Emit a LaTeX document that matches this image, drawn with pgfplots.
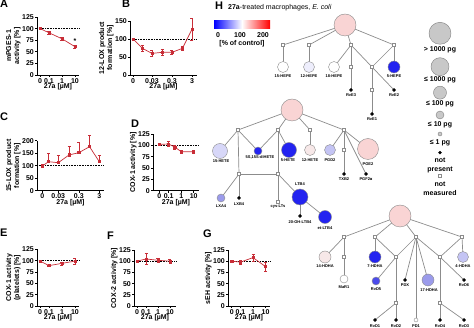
\documentclass[border=0pt]{standalone}
\usepackage{fontspec}
\setmainfont{Liberation Sans}
\usepackage{pgfplots}
\pgfplotsset{compat=1.18}
\definecolor{dr}{RGB}{200,45,55}
\definecolor{edgec}{RGB}{140,140,140}
\definecolor{pinkc}{RGB}{249,212,212}
\definecolor{palepink}{RGB}{247,232,232}
\definecolor{blu}{RGB}{35,35,240}
\definecolor{bluemed}{RGB}{75,75,235}
\definecolor{lav1}{RGB}{238,238,252}
\definecolor{lav2}{RGB}{215,215,248}
\definecolor{lav3}{RGB}{196,196,244}
\definecolor{lav4}{RGB}{155,155,235}
\definecolor{leggray}{RGB}{200,200,200}
\newcommand{\E}[4]{\addplot[edgec, line width=0.7pt] coordinates {(#1,#2) (#3,#4)};}
\newcommand{\C}[4]{\addplot[only marks, mark=*, mark size=#3pt, mark options={fill=#4, draw=edgec, line width=0.4pt}] coordinates {(#1,#2)};}
\newcommand{\Lb}[3]{\node[font=\fontsize{4}{4}\selectfont\bfseries, inner sep=0pt] at (#1,#2) {#3};}
\newcommand{\Lg}[3]{\node[font=\fontsize{7}{7}\selectfont\bfseries, inner sep=0pt] at (#1,#2) {#3};}
\pgfplotsset{
  panel/.style={scale only axis, axis lines*=left, tick align=outside,
    major tick length=2pt, axis line style={line width=0.8pt},
    tick style={line width=0.6pt, black},
    tick label style={font=\fontsize{7}{8}\selectfont\bfseries, inner sep=1pt},
    /pgf/number format/assume math mode=true,
    label style={font=\fontsize{7}{8}\selectfont\bfseries, align=center},
    xlabel={27a [µM]}, clip=false,
    xlabel style={yshift=4pt}, ylabel style={yshift=-3pt}, ymin=0},
  dat/.style={dr, line width=0.7pt, mark=square*, mark size=1.1pt,
    error bars/y dir=both, error bars/y explicit,
    error bars/error bar style={line width=0.6pt, dr},
    error bars/error mark options={rotate=90, mark size=1.5pt, dr}},
  datp/.style={dat, error bars/y dir=plus},
  ref/.style={densely dotted, black, line width=0.6pt}
}
\begin{document}
\begin{tikzpicture}
\useasboundingbox (0pt,0pt) rectangle (474pt,328pt);
% ---------------- A
\begin{axis}[panel, at={(37pt,253pt)}, anchor=south west, width=42pt, height=58pt,
  xmin=-1.923, xmax=1.308, ymax=125, ytick={0,25,...,125},
  xtick={-1.69,-1,0,1}, xticklabels={0,0.1,1,10},
  ylabel={mPGES-1\\activity [\%]}]
\addplot[ref] coordinates {(-1.923,100) (1.308,100)};
\addplot[dat] coordinates {(-1.69,100) +- (0,2) (-1,91) +- (0,3) (0,78) +- (0,3) (1,61) +- (0,3)};
\node[font=\fontsize{7}{7}\selectfont\bfseries] at (axis cs:1,73) {*};
\end{axis}
% ---------------- B
\begin{axis}[panel, at={(130pt,253pt)}, anchor=south west, width=67pt, height=54pt,
  xmin=-2.62, xmax=0.727, ymax=150, ytick={0,50,100,150},
  xtick={-2.47,-1.523,-0.523,0.477}, xticklabels={0,0.03,0.3,3},
  ylabel={12-LOX product\\formation [\%]}]
\addplot[ref] coordinates {(-2.62,100) (0.727,100)};
\addplot[dat] coordinates {(-2.47,100) +- (0,2) (-2,74) +- (0,8) (-1.523,60) +- (0,8)
  (-1,63) +- (0,8) (-0.523,63) +- (0,6) (0,74) +- (0,6) (0.477,127) +- (0,30)};
\end{axis}
% ---------------- C
\begin{axis}[panel, at={(37pt,137.3pt)}, anchor=south west, width=67pt, height=50pt,
  xmin=-2.562, xmax=0.706, ymax=200, ytick={0,50,...,200},
  xtick={-2.30,-1.523,-0.523,0.477}, xticklabels={0,0.03,0.3,3},
  ylabel={15-LOX product\\formation [\%]}]
\addplot[ref] coordinates {(-2.562,100) (0.706,100)};
\addplot[datp] coordinates {(-2.30,99) +- (0,2) (-2,116) +- (0,34) (-1.523,112) +- (0,31)
  (-1,143) +- (0,33) (-0.523,152) +- (0,40) (0,176) +- (0,46) (0.477,116) +- (0,24)};
\end{axis}
% ---------------- D
\begin{axis}[panel, at={(153pt,137.3pt)}, anchor=south west, width=46pt, height=56.7pt,
  xmin=-2.25, xmax=1.42, ymax=125, ytick={0,25,...,125},
  xtick={-1.75,-1,0,1}, xticklabels={0,0.1,1,10},
  ylabel={COX-1 activity [\%]}]
\addplot[ref] coordinates {(-2.25,100) (1.42,100)};
\addplot[dat] coordinates {(-1.75,102) +- (0,2) (-1,103) +- (0,6) (-0.5,96) +- (0,4) (0,86) +- (0,4) (1,86) +- (0,3)};
\end{axis}
% ---------------- E
\begin{axis}[panel, at={(37pt,22pt)}, anchor=south west, width=42pt, height=56.7pt,
  xmin=-1.923, xmax=1.308, ymax=125, ytick={0,25,...,125},
  xtick={-1.69,-1,0,1}, xticklabels={0,0.1,1,10},
  ylabel={COX-1 activity\\(platelets) [\%]}]
\addplot[ref] coordinates {(-1.923,100) (1.308,100)};
\addplot[dat] coordinates {(-1.69,99) +- (0,2) (-1,89) +- (0,2) (0,94) +- (0,3) (1,99) +- (0,7)};
\end{axis}
% ---------------- F
\begin{axis}[panel, at={(134pt,22pt)}, anchor=south west, width=42pt, height=56pt,
  xmin=-2, xmax=1.5, ymax=125, ytick={0,25,...,125},
  xtick={-1.75,-1,0,1}, xticklabels={0,0.1,1,10},
  ylabel={COX-2 activity [\%]}]
\addplot[ref] coordinates {(-2,100) (1.5,100)};
\addplot[dat] coordinates {(-1.75,100) +- (0,2) (-1,105) +- (0,12) (0,102) +- (0,5) (1,100) +- (0,5)};
\end{axis}
% ---------------- G
\begin{axis}[panel, at={(228pt,22pt)}, anchor=south west, width=42pt, height=56pt,
  xmin=-2, xmax=1.36, ymax=125, ytick={0,25,...,125},
  xtick={-1.70,-1,0,1}, xticklabels={0,0.1,1,10},
  ylabel={sEH activity [\%]}]
\addplot[ref] coordinates {(-2,100) (1.36,100)};
\addplot[dat] coordinates {(-1.70,100) +- (0,2) (-1,98) +- (0,4) (0,108) +- (0,8) (1,88) +- (0,10)};
\end{axis}
% ---------------- H network
\begin{axis}[at={(0pt,0pt)}, anchor=south west, scale only axis, width=474pt, height=328pt,
  xmin=0, xmax=474, ymin=0, ymax=328, y dir=reverse, hide axis, clip=false]
% panel letters
\node[font=\fontsize{11}{11}\selectfont\bfseries, anchor=north west, inner sep=0pt] at (0,0) {A};
\node[font=\fontsize{11}{11}\selectfont\bfseries, anchor=north west, inner sep=0pt] at (122,0) {B};
\node[font=\fontsize{11}{11}\selectfont\bfseries, anchor=north west, inner sep=0pt] at (0,113) {C};
\node[font=\fontsize{11}{11}\selectfont\bfseries, anchor=north west, inner sep=0pt] at (131,120) {D};
\node[font=\fontsize{11}{11}\selectfont\bfseries, anchor=north west, inner sep=0pt] at (0,229) {E};
\node[font=\fontsize{11}{11}\selectfont\bfseries, anchor=north west, inner sep=0pt] at (107,232) {F};
\node[font=\fontsize{11}{11}\selectfont\bfseries, anchor=north west, inner sep=0pt] at (203,230) {G};
\node[font=\fontsize{11}{11}\selectfont\bfseries, anchor=north west, inner sep=0pt] at (215,2) {H};
\node[font=\fontsize{7}{7}\selectfont, anchor=west, inner sep=0pt] at (228,8) {\textbf{27a}-treated macrophages, \textit{E. coli}};
% colorbar
\shade[left color=blue, right color=red, middle color=white] (214,21) rectangle (270,29);
\Lg{218}{35}{0}\Lg{240}{35}{100}\Lg{263}{35}{200}
\Lg{242}{43.5}{[\% of control]}
% EPA edges
\E{345}{25}{283}{45}\E{345}{25}{309}{45}\E{345}{25}{351}{45}\E{345}{25}{394}{45}
\E{283}{45}{283}{67}\E{309}{45}{309}{67}\E{351}{45}{334}{67}\E{351}{45}{351}{67}
\E{351}{67}{351}{90}\E{351}{45}{372}{67}\E{394}{45}{372}{67}\E{394}{45}{394}{67}
\E{372}{67}{394}{90}\E{372}{67}{372}{90}\E{372}{90}{372}{114}
% AA edges
\E{292}{110}{238}{130}\E{292}{110}{278}{130}\E{292}{110}{310}{130}\E{292}{110}{344}{130}
\E{238}{130}{220}{151}\E{238}{130}{258}{151}\E{238}{130}{239}{174}
\E{278}{130}{258}{151}\E{278}{130}{289}{150}\E{278}{130}{278}{174}
\E{310}{130}{310}{150}\E{344}{130}{330}{150}\E{344}{130}{344}{150}\E{344}{150}{344}{174}
\E{344}{130}{368}{149}\E{344}{130}{366}{174}
\E{239}{174}{221}{198}\E{239}{174}{239}{198}\E{239}{174}{278}{174}
\E{278}{174}{278}{202}\E{278}{174}{300}{197}\E{300}{197}{300}{216}\E{300}{197}{325}{217}
% DHA edges
\E{400}{216}{344}{237}\E{400}{216}{375}{237}\E{400}{216}{416}{237}\E{400}{216}{462}{237}
\E{344}{237}{325}{257}\E{344}{237}{344}{257}\E{344}{257}{344}{279}
\E{375}{237}{375}{257}\E{375}{237}{396}{257}\E{416}{237}{396}{257}
\E{396}{257}{376}{281}\E{396}{257}{396}{303}\E{396}{303}{375}{320}\E{396}{303}{396}{320}
\E{416}{237}{405}{280}\E{416}{237}{416}{320}\E{416}{237}{428}{280}\E{416}{237}{440}{257}
\E{462}{237}{440}{257}\E{462}{237}{463}{257}
\E{440}{257}{464}{280}\E{440}{257}{440}{303}\E{440}{303}{440}{320}\E{440}{303}{464}{320}
% not measured squares
\addplot[only marks, mark=square*, mark size=1.5pt, mark options={fill=white, draw=edgec, line width=0.5pt}]
 coordinates {(283,45) (309,45) (351,45) (394,45) (351,67) (372,67) (372,90)
 (238,130) (278,130) (310,130) (344,130) (344,150) (239,174) (278,174) (278,202)
 (344,237) (375,237) (416,237) (462,237) (344,257) (396,257) (440,257) (396,303) (440,303)
 (440,176)};
% not present dots
\addplot[only marks, mark=*, mark size=1.5pt, black]
 coordinates {(351,90) (394,90) (372,114) (344,174) (366,174) (239,198) (300,216)
 (405,280) (464,280) (375,320) (396,320) (440,320) (464,320) (440,152.7)};
% parents
\C{345}{25}{11}{pinkc}\C{292}{110}{11}{pinkc}\C{400}{216}{11}{pinkc}
\Lg{345}{25}{EPA}\Lg{292}{110}{AA}\Lg{400}{216}{DHA}
% EPA metabolites
\C{283}{67}{5.5}{white}\C{309}{67}{5.5}{lav1}\C{334}{67}{5.5}{white}\C{394}{67}{6}{blu}
% AA metabolites
\C{220}{151}{7.5}{lav2}\C{258}{151}{4}{blu}\C{289}{150}{7.5}{blu}\C{310}{150}{5.5}{palepink}
\C{330}{150}{5.5}{lav3}\C{368}{149}{10.5}{pinkc}\C{221}{198}{4}{lav4}\C{300}{197}{8}{blu}
\C{325}{217}{6.5}{blu}
% DHA metabolites
\C{325}{257}{6}{palepink}\C{344}{279}{4}{white}\C{375}{257}{6}{blu}\C{376}{281}{4}{bluemed}
\C{428}{280}{6}{lav4}\C{463}{257}{5.5}{lav3}\C{416}{320}{2}{white}
% labels
\Lb{283}{76}{15-HEPE}\Lb{309}{76}{12-HEPE}\Lb{334}{76}{18-HEPE}\Lb{394}{76}{5-HEPE}
\Lb{351}{95.5}{RvE3}\Lb{394}{95.5}{RvE2}\Lb{372}{119}{RvE1}
\Lb{221}{161.5}{15-HETE}\Lb{260}{157}{5S,15S-diHETE}\Lb{288}{160}{5-HETE}\Lb{310}{160}{12-HETE}
\Lb{330}{160}{PGD2}\Lb{368}{164.5}{PGE2}\Lb{344}{179.5}{TXB2}\Lb{366}{179.5}{PGF2α}
\Lb{221}{206}{LXA4}\Lb{239}{204}{LXB4}\Lb{300}{184.5}{LTB4}\Lb{278}{207}{cys-LTs}
\Lb{300}{222}{20-OH-LTB4}\Lb{325}{228.5}{et-LTB4}
\Lb{325}{266.5}{14-HDHA}\Lb{344}{287.5}{MaR1}\Lb{375}{266.5}{7-HDHA}\Lb{376}{289.5}{RvD5}
\Lb{405}{285.5}{PDX}\Lb{429}{290}{17-HDHA}\Lb{463}{266}{4-HDHA}\Lb{464}{285.5}{RvD6}
\Lb{375}{326}{RvD1}\Lb{396}{326}{RvD2}\Lb{416}{326}{PD1}\Lb{440}{326}{RvD4}\Lb{464}{326}{RvD3}
% size legend
\addplot[only marks, mark=*, mark options={fill=leggray, draw=gray, line width=0.4pt}, mark size=11pt] coordinates {(440,33.3)};
\addplot[only marks, mark=*, mark options={fill=leggray, draw=gray, line width=0.4pt}, mark size=9pt] coordinates {(440,66.7)};
\addplot[only marks, mark=*, mark options={fill=leggray, draw=gray, line width=0.4pt}, mark size=6.5pt] coordinates {(440,92.7)};
\addplot[only marks, mark=*, mark options={fill=leggray, draw=gray, line width=0.4pt}, mark size=4pt] coordinates {(440,115)};
\addplot[only marks, mark=*, mark options={fill=leggray, draw=gray, line width=0.4pt}, mark size=2pt] coordinates {(440,134)};
\Lg{440}{50}{> 1000 pg}\Lg{440}{80}{≤ 1000 pg}\Lg{440}{103.5}{≤ 100 pg}
\Lg{440}{125}{≤ 10 pg}\Lg{440}{143}{≤ 1 pg}\Lg{440}{160.5}{not}\Lg{440}{170}{present}
\Lg{440}{184}{not}\Lg{440}{193.5}{measured}
\end{axis}
\end{tikzpicture}
\end{document}
